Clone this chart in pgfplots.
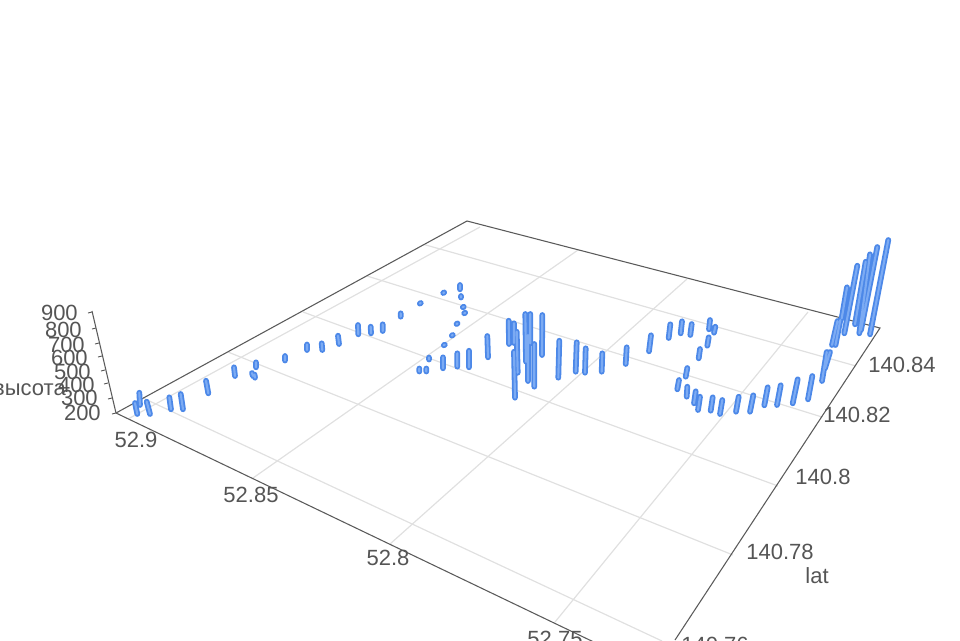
\documentclass[border=0pt]{standalone}
\usepackage{fontspec}
\setmainfont{Liberation Sans}
\usepackage{pgfplots}
\usepackage{pgfplotstable}
\pgfplotsset{compat=1.18}
\definecolor{edge}{HTML}{5A5A5A}
\definecolor{gridc}{HTML}{E0E0E0}
\definecolor{txt}{HTML}{555555}
\definecolor{barout}{HTML}{4C88E8}
\definecolor{barin}{HTML}{7CABF3}
\tikzset{lbl/.style={font=\fontsize{16.5pt}{18pt}\selectfont, text=txt, inner sep=0pt}}

% the 3d view has perspective, so the columns are kept in picture coordinates
\pgfplotstableread{
x y
139.3 392.7
140 405
nan nan
135 403
137.3 414
nan nan
146.7 401.7
150 414
nan nan
169.3 397.3
171 409.3
nan nan
180.7 394
183 409.3
nan nan
206 380.7
208.3 393.3
nan nan
234 367.3
235 376
nan nan
252 373
253 376
nan nan
254.5 374.5
255 377.7
nan nan
256 362.3
256 367.3
nan nan
285 356
285 360.5
nan nan
307 344.5
307 350
nan nan
321.7 343.3
322.3 350
nan nan
338 335.7
339 344
nan nan
358 325
358.3 334.3
nan nan
370.7 326.7
371 333.3
nan nan
382.7 324.3
382.7 331
nan nan
400.7 313.3
400.7 316.7
nan nan
419.8 303.6
420.8 303
nan nan
443.2 293
444.2 292.4
nan nan
460 285
460 289.3
nan nan
461 296
461 297.5
nan nan
462.8 307.2
463.8 306.8
nan nan
464.2 313.3
465.2 312.7
nan nan
456.5 324
457.5 323.4
nan nan
451.8 335.6
452.8 335
nan nan
443.8 345.3
444.8 344.7
nan nan
429 357.5
429 359.5
nan nan
419.3 368.5
419.3 371.5
nan nan
426.3 368.5
426.3 371.5
nan nan
443 357.3
443 368.3
nan nan
457.3 353.3
457.3 366.7
nan nan
469 350.7
469 367.3
nan nan
487.3 336
488 357.3
nan nan
508.7 320.7
509 344
nan nan
514 323.3
514 343
nan nan
516.7 331.7
517.7 372.7
nan nan
514 351.7
515 397.7
nan nan
525.3 314
526 361.7
nan nan
530.3 314
530.3 343.3
nan nan
528 335
528 381
nan nan
534.3 344
534.3 386.7
nan nan
542.3 315
542 355
nan nan
559.3 340.7
558.3 377.7
nan nan
576.7 342.3
575.7 371.7
nan nan
585.7 348.3
585 372.7
nan nan
602.3 353.3
601.7 371.7
nan nan
626.7 347.3
625.7 364
nan nan
651 335.3
649 351.3
nan nan
670.3 324.3
668.7 338
nan nan
682 321.3
680.7 333.3
nan nan
691.7 324
690.3 335
nan nan
710 320
709 329.3
nan nan
715.3 326.7
714 332.7
nan nan
708.7 337.3
707.3 345.7
nan nan
700 349
698.7 358.3
nan nan
687.3 368
685.7 376.7
nan nan
679 380
677.3 389.3
nan nan
687.3 386.7
686.7 396.7
nan nan
695.7 391.3
694 403.3
nan nan
700 396.7
698 410
nan nan
712.7 397.3
710.7 410.7
nan nan
722.3 400
720 414
nan nan
738.7 396.7
736 411.7
nan nan
753.3 395.3
750 411.7
nan nan
767.7 387.3
764.3 405.3
nan nan
780.7 385.3
777 405
nan nan
797.7 379.3
792.7 403.3
nan nan
812.3 376
808 399.3
nan nan
826.7 352
822 381
nan nan
830 352
825 368.3
nan nan
837.5 321
832 345
nan nan
840.3 320
835.5 345
nan nan
847 287.3
841.7 318.3
nan nan
857.3 265.7
844.3 333.3
nan nan
865.7 261.7
855 324.3
nan nan
870 254.3
859.3 333.3
nan nan
877.3 247
861 330
nan nan
888.3 240
870 334.3
}\barstable

\begin{document}
\begin{tikzpicture}
\path[use as bounding box] (0,0) rectangle (720pt,480pt);
\begin{axis}[
    at={(0,0)}, anchor=south west,
    scale only axis, width=720pt, height=480pt,
    xmin=0, xmax=960, ymin=0, ymax=640,
    y dir=reverse,
    hide axis,
    unbounded coords=jump,
    clip=true,
]
% grid, lat direction
\addplot[gridc, line width=0.9pt] coordinates {(424,244.5) (856,366)};
\addplot[gridc, line width=0.9pt] coordinates {(367,276) (822,417)};
\addplot[gridc, line width=0.9pt] coordinates {(303,312) (778,486)};
\addplot[gridc, line width=0.9pt] coordinates {(228,352) (733,555)};
\addplot[gridc, line width=0.9pt] coordinates {(143,398) (662,641)};
% grid, lon direction
\addplot[gridc, line width=0.9pt] coordinates {(128,419) (480,227)};
\addplot[gridc, line width=0.9pt] coordinates {(253,478) (578,250)};
\addplot[gridc, line width=0.9pt] coordinates {(390,544) (687,279)};
\addplot[gridc, line width=0.9pt] coordinates {(555,622) (808,312)};
% box edges
\addplot[edge, line width=0.8pt] coordinates {(116,413) (467,221) (880,328) (675,640)};
\addplot[edge, line width=0.8pt] coordinates {(116,413) (600,645)};
\addplot[edge, line width=0.8pt] coordinates {(116,413) (92,311)};
% height ticks
\addplot[edge, line width=0.7pt] table {
x y
92 312
88 313
nan nan
96 328
92 329
nan nan
99 343
95 344
nan nan
102 356
98 357
nan nan
105 370
101 371
nan nan
108 383
104 384
nan nan
112 398
108 399
nan nan
116 413
112 414
};
% columns
\addplot[barout, line width=4.3pt, line cap=round] table {\barstable};
\addplot[barin, line width=1.6pt, line cap=round] table {\barstable};
% tick labels
\node[lbl] at (axis cs:136,440) {52.9};
\node[lbl] at (axis cs:251,495) {52.85};
\node[lbl] at (axis cs:388,558) {52.8};
\node[lbl] at (axis cs:555,639) {52.75};
\node[lbl] at (axis cs:902,365) {140.84};
\node[lbl] at (axis cs:857,415) {140.82};
\node[lbl] at (axis cs:823,477) {140.8};
\node[lbl] at (axis cs:780,552) {140.78};
\node[lbl] at (axis cs:715,645) {140.76};
\node[lbl] at (axis cs:817,576) {lat};
\node[lbl, anchor=east] at (axis cs:78,313) {900};
\node[lbl, anchor=east] at (axis cs:82,330) {800};
\node[lbl, anchor=east] at (axis cs:85,345) {700};
\node[lbl, anchor=east] at (axis cs:88,358) {600};
\node[lbl, anchor=east] at (axis cs:91,372) {500};
\node[lbl, anchor=east] at (axis cs:95,385) {400};
\node[lbl, anchor=east] at (axis cs:98,398) {300};
\node[lbl, anchor=east] at (axis cs:101,413) {200};
\node[lbl, anchor=east] at (axis cs:66,390) {высота};
\end{axis}
\end{tikzpicture}
\end{document}
